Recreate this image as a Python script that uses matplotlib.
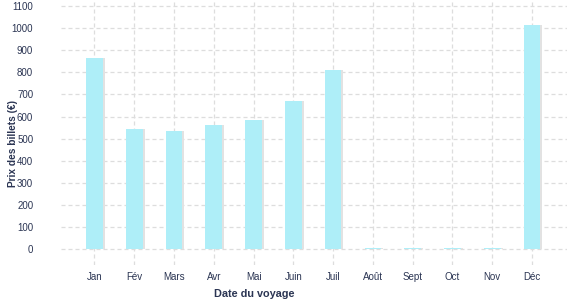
import matplotlib.pyplot as plt
import numpy as np

plt.rcParams['font.family'] = ['Liberation Sans', 'DejaVu Sans']

months = ['Jan', 'Fév', 'Mars', 'Avr', 'Mai', 'Juin', 'Juil', 'Août', 'Sept', 'Oct', 'Nov', 'Déc']
prices = [864, 542, 533, 560, 583, 670, 810, 5, 5, 5, 5, 1015]
yticks = list(range(0, 1101, 100))

text_col = '#2b3553'
bar_col = '#aeeef8'
grid_col = '#dddddd'

fig = plt.figure(figsize=(5.77, 3.0), dpi=100)
ax = fig.add_axes([0.1057, 0.1167, 0.877, 0.8833])

x = np.arange(len(months))
# light shadow on the right of each bar
ax.bar(x + 0.05, prices, width=0.42, color='#e2e2e2', zorder=2)
ax.bar(x, prices, width=0.42, color=bar_col, zorder=3)

ax.set_xlim(-0.84, 11.88)
ax.set_ylim(-71, 1127)
ax.set_xticks(x)
ax.set_xticklabels(months)
ax.set_yticks(yticks)

ax.grid(True, color=grid_col, linestyle=(0, (3.2, 2.4)), linewidth=0.9, zorder=0)
ax.set_axisbelow(True)
for s in ax.spines.values():
    s.set_visible(False)
ax.tick_params(axis='both', length=0, labelsize=7, labelcolor=text_col)
ax.tick_params(axis='x', pad=5)
ax.tick_params(axis='y', pad=20)

ax.set_xlabel('Date du voyage', fontsize=7.8, fontweight='bold', color=text_col)
ax.xaxis.set_label_coords(0.381, -0.09)
ax.set_ylabel('Prix des billets (€)', fontsize=7.3, fontweight='bold', color=text_col)
ax.yaxis.set_label_coords(-0.085, 0.457)

fig.savefig('out.png', dpi=100)
